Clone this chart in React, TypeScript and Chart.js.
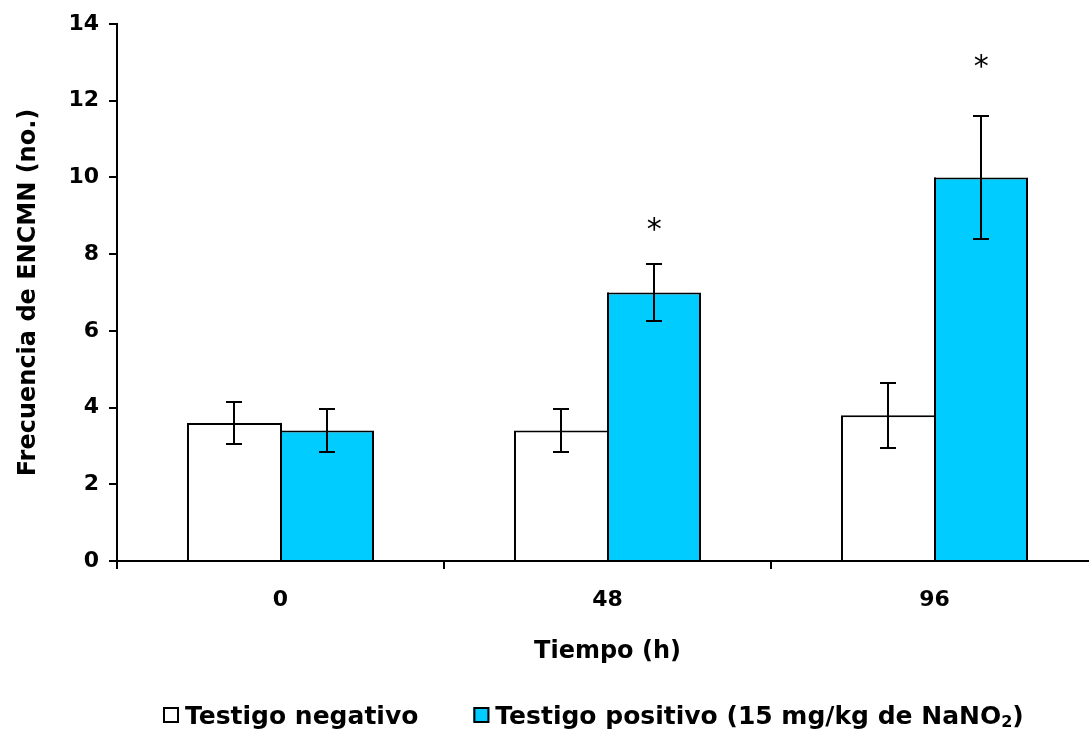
import React, { useEffect, useRef } from "react";
import { Chart, registerables } from "chart.js";

Chart.register(...registerables);

// ---- data ----
const categories = ["0", "48", "96"];
const negLabel = "Testigo negativo";
const posLabel = "Testigo positivo (15 mg/kg de NaNO₂)";
const negValues = [3.6, 3.4, 3.8];
const negErrors = [0.55, 0.55, 0.85];
const posValues = [3.4, 7.0, 10.0];
const posErrors = [0.55, 0.74, 1.6];
const significanceMarks = ["", "*", "*"];
const significanceY = [0, 8.75, 13.0];
const yMin = 0;
const yMax = 14;
const yStep = 2;

const FONT = "'DejaVu Sans', 'Liberation Sans', Arial, sans-serif";

// draws the single shared edge between the two bars of each group
const sharedEdgePlugin = {
  id: "sharedEdge",
  afterDatasetsDraw(chart: any) {
    const { ctx } = chart;
    const m0 = chart.getDatasetMeta(0);
    const m1 = chart.getDatasetMeta(1);
    ctx.save();
    ctx.fillStyle = "#000";
    m0.data.forEach((b0: any, i: number) => {
      const b1 = m1.data[i];
      const xEdge = Math.round(b0.x + b0.width / 2);
      const top = Math.min(b0.y, b1.y);
      const base = b0.base;
      ctx.fillRect(xEdge - 1, top, 2, base - top);
    });
    ctx.restore();
  },
};

const errorBarPlugin = {
  id: "errorBars",
  afterDatasetsDraw(chart: any) {
    const { ctx } = chart;
    const y = chart.scales.y;
    chart.data.datasets.forEach((ds: any, di: number) => {
      const meta = chart.getDatasetMeta(di);
      meta.data.forEach((bar: any, i: number) => {
        const v = ds.data[i];
        const e = ds.errors[i];
        const x = Math.round(bar.x);
        const yt = Math.round(y.getPixelForValue(v + e));
        const yb = Math.round(y.getPixelForValue(v - e));
        ctx.save();
        ctx.strokeStyle = "#000";
        ctx.lineWidth = 2;
        ctx.beginPath();
        ctx.moveTo(x, yt);
        ctx.lineTo(x, yb);
        ctx.moveTo(x - 8, yt);
        ctx.lineTo(x + 8, yt);
        ctx.moveTo(x - 8, yb);
        ctx.lineTo(x + 8, yb);
        ctx.stroke();
        ctx.restore();
      });
    });
  },
};

const significancePlugin = {
  id: "significance",
  afterDatasetsDraw(chart: any) {
    const { ctx } = chart;
    const y = chart.scales.y;
    const meta = chart.getDatasetMeta(1);
    ctx.save();
    ctx.fillStyle = "#000";
    ctx.font = `30px ${FONT}`;
    ctx.textAlign = "center";
    ctx.textBaseline = "alphabetic";
    significanceMarks.forEach((m, i) => {
      if (!m) return;
      const bar = meta.data[i];
      ctx.fillText(m, bar.x, y.getPixelForValue(significanceY[i]) + 14);
    });
    ctx.restore();
  },
};

const bottomLegendPlugin = {
  id: "bottomLegend",
  afterDraw(chart: any) {
    const { ctx } = chart;
    const box = 16;
    const centerY = 715;
    const baseline = 724;
    let x = 163;
    ctx.save();
    chart.data.datasets.forEach((ds: any) => {
      ctx.fillStyle = ds.backgroundColor;
      ctx.fillRect(x, centerY - box / 2, box, box);
      ctx.strokeStyle = "#000";
      ctx.lineWidth = 2;
      ctx.strokeRect(x + 1, centerY - box / 2 + 1, box - 2, box - 2);
      x += box + 6;
      ctx.fillStyle = "#000";
      ctx.textAlign = "left";
      ctx.textBaseline = "alphabetic";
      const parts = String(ds.label).split("₂");
      parts.forEach((p: string, k: number) => {
        ctx.font = `bold 25px ${FONT}`;
        ctx.fillText(p, x, baseline);
        x += ctx.measureText(p).width;
        if (k < parts.length - 1) {
          ctx.font = `bold 16px ${FONT}`;
          ctx.fillText("2", x, baseline + 3);
          x += ctx.measureText("2").width;
        }
      });
      x += 55;
    });
    ctx.restore();
  },
};

export default function App() {
  const ref = useRef<HTMLCanvasElement | null>(null);

  useEffect(() => {
    if (!ref.current) return;
    const chart = new Chart(ref.current, {
      type: "bar",
      data: {
        labels: categories,
        datasets: [
          {
            label: negLabel,
            data: negValues,
            errors: negErrors,
            backgroundColor: "#FFFFFF",
            borderColor: "#000000",
            borderWidth: { top: 2, left: 2, right: 0, bottom: 0 },
            borderSkipped: "start",
            categoryPercentage: 0.572,
            barPercentage: 1,
          } as any,
          {
            label: posLabel,
            data: posValues,
            errors: posErrors,
            backgroundColor: "#00CCFF",
            borderColor: "#000000",
            borderWidth: { top: 2, left: 0, right: 2, bottom: 0 },
            borderSkipped: "start",
            categoryPercentage: 0.572,
            barPercentage: 1,
          } as any,
        ],
      },
      options: {
        responsive: false,
        animation: false,
        events: [],
        layout: { padding: { top: 24, left: 0, right: 2, bottom: 0 } },
        plugins: {
          legend: { display: false },
          tooltip: { enabled: false },
        },
        scales: {
          x: {
            type: "category",
            offset: true,
            grid: {
              display: true,
              offset: true,
              drawOnChartArea: false,
              drawTicks: true,
              tickLength: 8,
              color: "#000",
              lineWidth: 2,
            },
            border: { display: true, color: "#000", width: 2 },
            ticks: {
              color: "#000",
              font: { family: FONT, size: 22, weight: "bold" },
              padding: 18,
              maxRotation: 0,
            },
            title: {
              display: true,
              text: "Tiempo (h)",
              color: "#000",
              font: { family: FONT, size: 24, weight: "bold" },
              padding: { top: 0, bottom: 67 },
            },
            afterFit: (s: any) => {
              s.height = 172;
            },
          },
          y: {
            min: yMin,
            max: yMax,
            grid: {
              display: true,
              drawOnChartArea: false,
              drawTicks: true,
              tickLength: 8,
              color: "#000",
              lineWidth: 2,
            },
            border: { display: true, color: "#000", width: 2 },
            ticks: {
              stepSize: yStep,
              color: "#000",
              font: { family: FONT, size: 22, weight: "bold" },
              padding: 10,
            },
            title: {
              display: true,
              text: "Frecuencia de ENCMN (no.)",
              color: "#000",
              font: { family: FONT, size: 24, weight: "bold" },
              padding: { top: 14, bottom: 0 },
            },
            afterFit: (s: any) => {
              s.width = 117;
            },
          },
        },
      } as any,
      plugins: [sharedEdgePlugin, errorBarPlugin, significancePlugin, bottomLegendPlugin],
    });
    return () => chart.destroy();
  }, []);

  return (
    <div
      style={{
        position: "fixed",
        left: 0,
        top: 0,
        width: 1100,
        height: 733,
        background: "#fff",
      }}
    >
      <canvas ref={ref} width={1100} height={733} style={{ display: "block" }} />
    </div>
  );
}
